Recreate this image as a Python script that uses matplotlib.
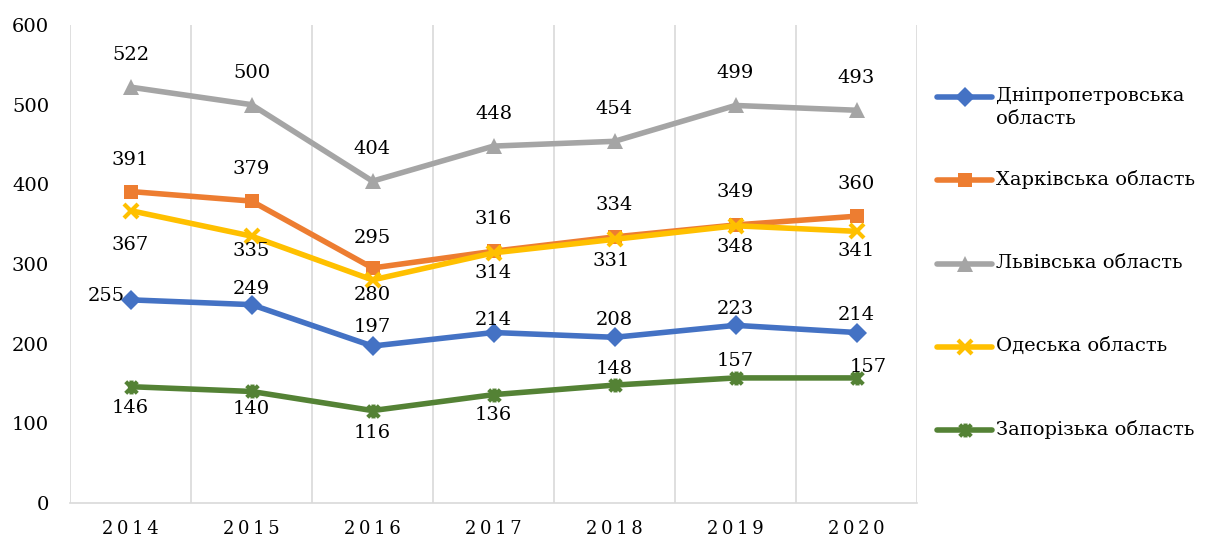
import matplotlib.pyplot as plt
from matplotlib.lines import Line2D
from matplotlib.path import Path

years = ['2014', '2015', '2016', '2017', '2018', '2019', '2020']
dnipro = [255, 249, 197, 214, 208, 223, 214]
kharkiv = [391, 379, 295, 316, 334, 349, 360]
lviv = [522, 500, 404, 448, 454, 499, 493]
odesa = [367, 335, 280, 314, 331, 348, 341]
zaporizhzhia = [146, 140, 116, 136, 148, 157, 157]
names = ['Дніпропетровська\nобласть', 'Харківська область', 'Львівська область',
         'Одеська область', 'Запорізька область']

plt.rcParams['font.family'] = ['DejaVu Serif']

# Excel-like "star" marker: an X with a vertical bar
star = Path([(-1, -1), (1, 1), (-1, 1), (1, -1), (0, -1.2), (0, 1.2)],
            [Path.MOVETO, Path.LINETO, Path.MOVETO, Path.LINETO, Path.MOVETO, Path.LINETO])

styles = [
    dict(color='#4472C4', marker='D', ms=10, mew=0),
    dict(color='#ED7D31', marker='s', ms=10, mew=0),
    dict(color='#A5A5A5', marker='^', ms=11, mew=0),
    dict(color='#FFC000', marker='x', ms=10, mew=3),
    dict(color='#548235', marker=star, ms=10, mew=3),
]

# label offsets in pixels (dx, dy with y up), and horizontal alignment
offsets = [
    [(-6, 4, 'right'), (0, 16, 'center'), (0, 19, 'center'), (0, 13, 'center'),
     (0, 17, 'center'), (0, 16, 'center'), (0, 18, 'center')],
    [(0, 32, 'center'), (0, 32, 'center'), (0, 30, 'center'), (0, 32, 'center'),
     (0, 32, 'center'), (0, 33, 'center'), (0, 32, 'center')],
    [(0, 32, 'center')] * 7,
    [(0, -34, 'center'), (0, -15, 'center'), (0, -15, 'center'), (0, -20, 'center'),
     (-3, -22, 'center'), (0, -21, 'center'), (0, -20, 'center')],
    [(0, -21, 'center'), (0, -18, 'center'), (0, -22, 'center'), (0, -20, 'center'),
     (0, 16, 'center'), (0, 17, 'center'), (-7, 11, 'left')],
]

fig = plt.figure(figsize=(12.19, 5.39), dpi=100)
ax = fig.add_axes([70 / 1219, 36 / 539, 847 / 1219, 478 / 539])

x = list(range(len(years)))
series = [dnipro, kharkiv, lviv, odesa, zaporizhzhia]
px = 72 / 100
for vals, st, offs in zip(series, styles, offsets):
    ax.plot(x, vals, lw=4, solid_capstyle='round', zorder=3, **st)
    for xi, v, (dx, dy, ha) in zip(x, vals, offs):
        ax.annotate(str(v), (xi, v), xytext=(dx * px, dy * px), textcoords='offset points',
                    ha=ha, va='center', fontsize=14, color='black', zorder=5)

ax.set_xlim(-0.5, 6.5)
ax.set_ylim(0, 600)
ax.set_yticks(range(0, 601, 100))
ax.set_xticks(x)
ax.set_xticklabels(['\u2009'.join(y) for y in years], fontsize=13)
ax.set_xticks([i - 0.5 for i in range(len(years) + 1)], minor=True)
ax.tick_params(axis='x', which='both', length=0, pad=12)
ax.tick_params(axis='y', length=0, pad=15, labelsize=14)
ax.grid(axis='x', which='minor', color='#D9D9D9', lw=1.2)
for s in ['top', 'right', 'left']:
    ax.spines[s].set_visible(False)
ax.spines['bottom'].set_color('#D9D9D9')
ax.spines['bottom'].set_linewidth(1.2)

# legend on the right
leg_y = [97, 180, 264, 347, 430]
for st, name, yy in zip(styles, names, leg_y):
    yf = 1 - yy / 539
    fig.add_artist(Line2D([937 / 1219, 992 / 1219], [yf, yf], transform=fig.transFigure,
                          lw=4, solid_capstyle='round', color=st['color']))
    fig.add_artist(Line2D([964.5 / 1219], [yf], transform=fig.transFigure, lw=0,
                          marker=st['marker'], ms=st['ms'], mew=st['mew'], color=st['color']))
    fig.text(996 / 1219, yf + 10 / 539, name, ha='left', va='top', fontsize=14,
             linespacing=1.35)

fig.savefig('out.png', dpi=100)
